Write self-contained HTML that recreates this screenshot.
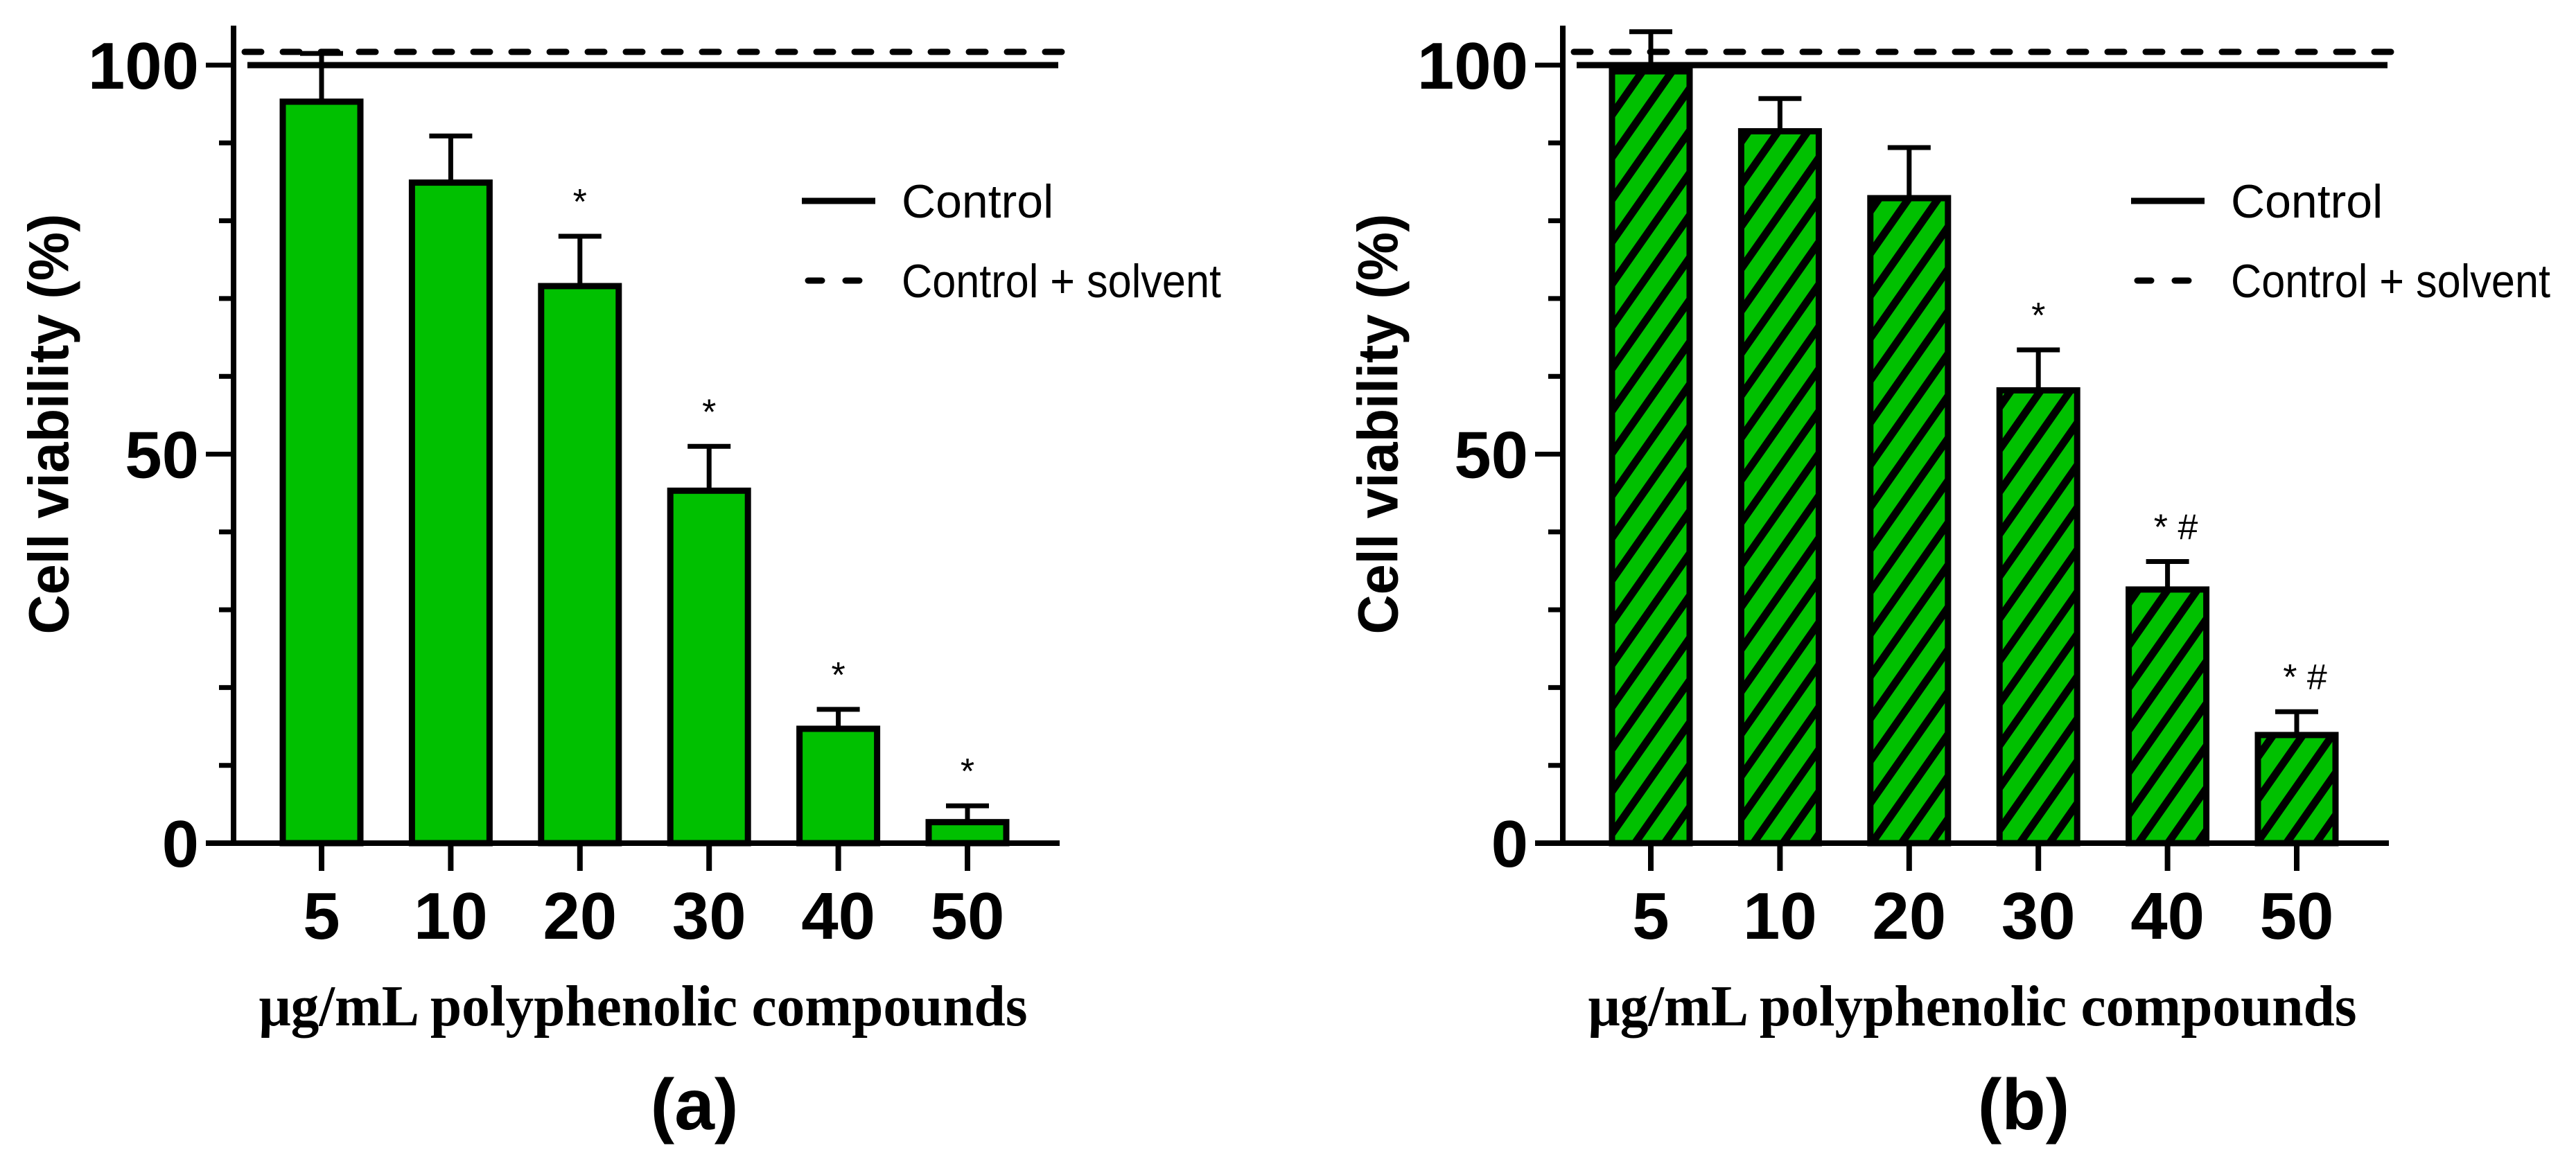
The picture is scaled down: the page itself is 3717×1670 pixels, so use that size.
<!DOCTYPE html>
<html><head><meta charset="utf-8"><style>
html,body{margin:0;padding:0;background:#fff;}
svg{display:block;}
</style></head><body>
<svg id="fig" width="3717" height="1670" viewBox="0 0 3717 1670" xmlns="http://www.w3.org/2000/svg">
<defs>
<pattern id="hatch" patternUnits="userSpaceOnUse" width="35" height="35" patternTransform="rotate(35)">
<rect width="35" height="35" fill="#00c000"/>
<rect x="0" y="0" width="11" height="35" fill="#000"/>
</pattern>
</defs>
<g id="root"></g>
</svg>
<script>
const categories = ["5","10","20","30","40","50"];
const valuesA = [95.3, 84.9, 71.6, 45.3, 14.7, 2.7];
const errorsA = [6.2, 6.0, 6.4, 5.7, 2.5, 2.1];
const annotA = ["", "", "*", "*", "*", "*"];
const valuesB = [99.2, 91.5, 82.9, 58.2, 32.6, 13.9];
const errorsB = [5.1, 4.2, 6.5, 5.2, 3.6, 3.0];
const annotB = ["", "", "", "*", "* #", "* #"];
const yTicks = [0, 50, 100];
const controlValue = 100;
const solventValue = 101.7;

const NS = "http://www.w3.org/2000/svg";
const root = document.getElementById("root");
function mk(tag, attrs, parent, text) {
  const e = document.createElementNS(NS, tag);
  for (const k in attrs) e.setAttribute(k, attrs[k]);
  if (text !== undefined) e.textContent = text;
  (parent || root).appendChild(e);
  return e;
}
const Y0 = 1217, PXU = 11.23;
function yScale(v) { return Y0 - v * PXU; }

function panel(off, vals, errs, annots, fill, label, name) {
  const g = mk("g", {});
  
  
  const ax = 337 + off;
  const xScale = i => 464 + off + i * 186.4;
  const bw = 112;
  let l = mk("line", {x1: ax + 20, x2: 1527 + off, y1: yScale(controlValue), y2: yScale(controlValue), stroke: "#000", "stroke-width": 9}, g);
  
  
  l = mk("line", {x1: ax + 16, x2: 1545 + off, y1: yScale(solventValue), y2: yScale(solventValue), stroke: "#000", "stroke-width": 9, "stroke-dasharray": "24 31", "stroke-linecap": "round"}, g);
  
  
  vals.forEach((v, i) => {
    const cx = xScale(i);
    const top = yScale(v + errs[i]);
    const e = mk("path", {d: `M${cx},${yScale(v)} V${top} M${cx - 31},${top} H${cx + 31}`, stroke: "#000", "stroke-width": 7, fill: "none"}, g);
    
    
    const b = mk("rect", {x: cx - bw / 2, y: yScale(v), width: bw, height: Y0 - yScale(v), fill: fill, stroke: "#000", "stroke-width": 9}, g);
    
    
    if (annots[i]) {
      const t = mk("text", {x: cx + (annots[i].length > 1 ? 12 : 0), y: top - 32, "text-anchor": "middle", "font-family": "Liberation Sans, sans-serif", "font-size": 52}, g, annots[i]);
      
      
    }
    const tk = mk("line", {x1: cx, x2: cx, y1: Y0, y2: Y0 + 40, stroke: "#000", "stroke-width": 8}, g);
    
    
    const tl = mk("text", {x: cx, y: 1355, "text-anchor": "middle", "font-family": "Liberation Sans, sans-serif", "font-weight": "bold", "font-size": 96}, g, categories[i]);
    
    
  });
  const axes = mk("path", {d: `M${ax},37 V${Y0} M${ax - 40},${Y0} H${1529 + off}`, stroke: "#000", "stroke-width": 8, fill: "none"}, g);
  
  
  for (let v = 0; v <= 100; v += 10) {
    const major = yTicks.includes(v);
    const t = mk("line", {x1: ax - (major ? 40 : 21), x2: ax, y1: yScale(v), y2: yScale(v), stroke: "#000", "stroke-width": 7}, g);
    
    
  }
  yTicks.forEach(v => {
    const t = mk("text", {x: ax - 50, y: yScale(v) + 34, "text-anchor": "end", "font-family": "Liberation Sans, sans-serif", "font-weight": "bold", "font-size": 96}, g, String(v));
    
    
  });
  const yt = mk("text", {transform: `translate(${71 + off},612) rotate(-90)`, "text-anchor": "middle", "dominant-baseline": "central", "font-family": "Liberation Sans, sans-serif", "font-weight": "bold", "font-size": 82, textLength: 607, lengthAdjust: "spacingAndGlyphs"}, g, "Cell viability (%)");
  
  
  const xt = mk("text", {x: 928 + off, y: 1480, "text-anchor": "middle", "font-family": "Liberation Serif, serif", "font-weight": "bold", "font-size": 84, textLength: 1109, lengthAdjust: "spacingAndGlyphs"}, g, "μg/mL polyphenolic compounds");
  
  
  const pl = mk("text", {x: 1002 + off, y: 1630, "text-anchor": "middle", "font-family": "Liberation Sans, sans-serif", "font-weight": "bold", "font-size": 104}, g, label);
  
  
  let lg = mk("line", {x1: 1157 + off, x2: 1263 + off, y1: 290, y2: 290, stroke: "#000", "stroke-width": 9}, g);
  
  
  lg = mk("text", {x: 1301 + off, y: 314, "font-family": "Liberation Sans, sans-serif", "font-size": 68}, g, "Control");
  
  
  lg = mk("line", {x1: 1166 + off, x2: 1250 + off, y1: 405, y2: 405, stroke: "#000", "stroke-width": 9, "stroke-dasharray": "20 34", "stroke-linecap": "round"}, g);
  
  
  lg = mk("text", {x: 1301 + off, y: 429, "font-family": "Liberation Sans, sans-serif", "font-size": 68, textLength: 461, lengthAdjust: "spacingAndGlyphs"}, g, "Control + solvent");
  
  
}
panel(0, valuesA, errorsA, annotA, "#00c000", "(a)", "panel-a");
panel(1918, valuesB, errorsB, annotB, "url(#hatch)", "(b)", "panel-b");
</script>
</body></html>
